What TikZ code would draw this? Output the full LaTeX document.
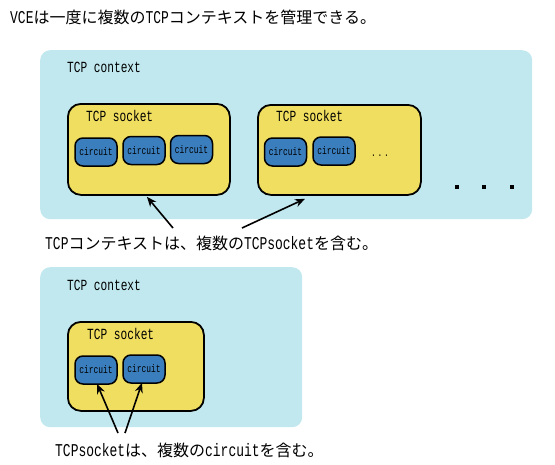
\documentclass[tikz,border=0pt]{standalone}
\usepackage{fontspec}
\setmainfont{Noto Sans CJK JP}
\newfontfamily\lmono[FakeStretch=0.72]{Liberation Mono}
\usetikzlibrary{arrows.meta,calc}
\definecolor{ctxc}{RGB}{192,232,238}
\definecolor{sockc}{RGB}{240,222,96}
\definecolor{circc}{RGB}{58,126,190}
\newcommand\hw[1]{{\lmono\fontsize{18}{18}\selectfont #1}}
\tikzset{
 ctx/.style={fill=ctxc, rounded corners=10pt, anchor=north west, inner sep=0pt},
 sock/.style={fill=sockc, draw=black, line width=1.8pt, rounded corners=13pt, anchor=north west, inner sep=0pt},
 circ/.style={fill=circc, draw=black, line width=1.5pt, rounded corners=8pt, minimum width=42pt, minimum height=28pt, inner sep=0pt, font=\lmono\fontsize{11}{11}\selectfont},
 lbl/.style={anchor=west, inner sep=0pt, font=\lmono\fontsize{15.5}{16}\selectfont},
 jp/.style={anchor=west, inner sep=0pt, font=\fontsize{16}{17}\selectfont},
 arr/.style={-{Stealth[length=10pt,width=8pt]}, line width=1.6pt},
 bigdot/.style={fill=black, minimum size=4.5pt, inner sep=0pt},
}
\begin{document}
\begin{tikzpicture}[x=1pt,y=-1pt]
\useasboundingbox (0,0) rectangle (555,464);
% title
\node[jp] (t0) at (10,17) {\hw{VCE}は一度に複数の\hw{TCP}コンテキストを管理できる。};
% context 1
\node[ctx, minimum width=492pt, minimum height=169pt] (ctx1) at (40,50) {};
\node[lbl] (ctx1l) at (67,67) {TCP context};
\node[sock, minimum width=162pt, minimum height=91pt] (s1) at (67,103) {};
\node[lbl] (s1l) at (86,116) {TCP socket};
\node[circ] (c11) at (96,152) {circuit};
\node[circ] (c12) at (144,150.5) {circuit};
\node[circ] (c13) at (191.5,149.5) {circuit};
\node[sock, minimum width=163pt, minimum height=90pt] (s2) at (257,104) {};
\node[lbl] (s2l) at (276,116) {TCP socket};
\node[circ] (c21) at (285.5,152) {circuit};
\node[circ] (c22) at (334,151) {circuit};
\node[anchor=center, inner sep=0pt, font=\lmono\fontsize{11}{11}\selectfont] (el) at (380,156) {.\,.\,.};
\node[bigdot] (d1) at (457,187) {};
\node[bigdot] (d2) at (484,187) {};
\node[bigdot] (d3) at (512,187) {};
% text 1
\node[jp] (t1) at (45,243) {\hw{TCP}コンテキストは、複数の\hw{TCPsocket}を含む。};
\coordinate (a1) at (173,228);
\coordinate (a2) at (242,228);
\draw[arr] (a1) -- ($(s1.south)+(-2,1)$);
\draw[arr] (a2) -- ($(s2.south west)+(48,3)$);
% context 2
\node[ctx, minimum width=262pt, minimum height=160pt] (ctx2) at (40,267) {};
\node[lbl] (ctx2l) at (67,285) {TCP context};
\node[sock, minimum width=136pt, minimum height=89pt] (s3) at (67,321) {};
\node[lbl] (s3l) at (87,334) {TCP socket};
\node[circ] (c31) at (96,370) {circuit};
\node[circ] (c32) at (144,369) {circuit};
% text 2
\node[jp] (t2) at (55,450) {\hw{TCPsocket}は、複数の\hw{circuit}を含む。};
\coordinate (a3) at (118,433);
\coordinate (a4) at (125,433);
\draw[arr] (a3) -- ($(c31.south)+(1,-1)$);
\draw[arr] (a4) -- ($(c32.south)+(-2,-1)$);
\end{tikzpicture}
\end{document}
